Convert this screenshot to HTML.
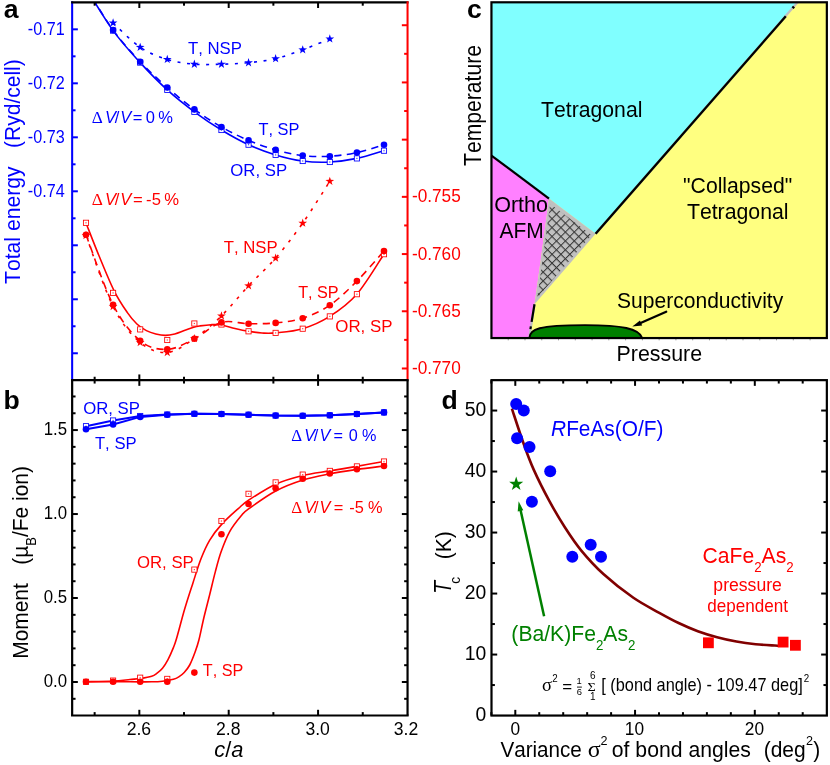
<!DOCTYPE html>
<html><head><meta charset="utf-8"><title>figure</title>
<style>html,body{margin:0;padding:0;background:#fff;}body{width:830px;height:765px;overflow:hidden;font-family:"Liberation Sans",sans-serif;}svg text{white-space:pre;font-kerning:none;}</style></head>
<body>
<svg width="830" height="765" viewBox="0 0 830 765" style="display:block;will-change:transform;transform:translateZ(0)">
<rect width="830" height="765" fill="#fff"/>
<defs><clipPath id="ca"><rect x="72.15" y="2.3" width="335.4" height="377.84999999999997"/></clipPath>
<pattern id="hatch" width="6.29" height="6.29" patternUnits="userSpaceOnUse" patternTransform="translate(552.06,217.95) rotate(45)"><path d="M0,0.5H6.29M0.5,0V6.29" stroke="#383838" stroke-width="1.05" fill="none"/></pattern>
</defs>
<g id="pc">
<rect x="491.45" y="2.3" width="335.40000000000003" height="335.75" fill="#ffff80"/>
<polygon points="491.45,2.3 797.6,2.3 595.6,233.8 549.0,198.6 491.45,155.6" fill="#80ffff"/>
<path d="M491.45,155.6 L549.0,198.6 Q542.0,252 534.5,304.3 L529.3,338.0 L491.45,338.05 Z" fill="#ff80ff"/>
<path d="M549.0,198.6 L595.6,233.8 L534.5,304.3 Q542.0,252 549.0,198.6 Z" fill="#c0c0c0"/>
<clipPath id="gclip"><path d="M549.0,198.6 L595.6,233.8 L534.5,304.3 Q542.0,252 549.0,198.6 Z" transform="translate(559.2,245.3) scale(0.89) translate(-559.2,-245.3)"/></clipPath>
<rect x="528" y="195" width="72" height="112" fill="url(#hatch)" clip-path="url(#gclip)"/>
<line x1="491.45" y1="155.6" x2="549" y2="198.6" stroke="#000" stroke-width="2.2" />
<line x1="595.6" y1="233.8" x2="797.6" y2="2.3" stroke="#c0c0c0" stroke-width="2.2" />
<line x1="595.6" y1="233.8" x2="785.8" y2="16.3" stroke="#000" stroke-width="2.4" />
<line x1="792.6" y1="8.2" x2="794" y2="6.6" stroke="#000" stroke-width="2.6" />
<path d="M534.5,304.3 L529.4,337" fill="none" stroke="#c0c0c0" stroke-width="2.2" />
<path d="M534.5,304.3 L529.6,334" fill="none" stroke="#000" stroke-width="2.2" stroke-dasharray="17.8,4.6,2.8,12" />
<path d="M529.4,338 C529.6,329 538,325.3 585,325.1 C622,325.1 639,328.5 642.2,338 Z" fill="#008000"/>
<path d="M529.4,338 C529.6,329 538,325.3 585,325.1 C622,325.1 639,328.5 642.2,338" fill="none" stroke="#000" stroke-width="1.9"/>
<line x1="666.2" y1="311.7" x2="640" y2="323.3" stroke="#000" stroke-width="2.3" stroke-linecap="round"/>
<polygon points="632.3,326.6 640.0,320.6 642.2,325.4" fill="#000"/>
<line x1="508.22" y1="339.05" x2="508.22" y2="340.35" stroke="#9a9a9a" stroke-width="1.0" />
<line x1="524.99" y1="339.05" x2="524.99" y2="340.35" stroke="#9a9a9a" stroke-width="1.0" />
<line x1="541.76" y1="339.05" x2="541.76" y2="340.35" stroke="#9a9a9a" stroke-width="1.0" />
<line x1="558.53" y1="339.05" x2="558.53" y2="340.35" stroke="#9a9a9a" stroke-width="1.0" />
<line x1="575.3" y1="339.05" x2="575.3" y2="340.35" stroke="#9a9a9a" stroke-width="1.0" />
<line x1="592.07" y1="339.05" x2="592.07" y2="340.35" stroke="#9a9a9a" stroke-width="1.0" />
<line x1="608.84" y1="339.05" x2="608.84" y2="340.35" stroke="#9a9a9a" stroke-width="1.0" />
<line x1="625.61" y1="339.05" x2="625.61" y2="340.35" stroke="#9a9a9a" stroke-width="1.0" />
<line x1="642.38" y1="339.05" x2="642.38" y2="340.35" stroke="#9a9a9a" stroke-width="1.0" />
<line x1="659.15" y1="339.05" x2="659.15" y2="340.35" stroke="#9a9a9a" stroke-width="1.0" />
<line x1="675.92" y1="339.05" x2="675.92" y2="340.35" stroke="#9a9a9a" stroke-width="1.0" />
<line x1="692.69" y1="339.05" x2="692.69" y2="340.35" stroke="#9a9a9a" stroke-width="1.0" />
<line x1="709.46" y1="339.05" x2="709.46" y2="340.35" stroke="#9a9a9a" stroke-width="1.0" />
<line x1="726.23" y1="339.05" x2="726.23" y2="340.35" stroke="#9a9a9a" stroke-width="1.0" />
<line x1="743" y1="339.05" x2="743" y2="340.35" stroke="#9a9a9a" stroke-width="1.0" />
<line x1="759.77" y1="339.05" x2="759.77" y2="340.35" stroke="#9a9a9a" stroke-width="1.0" />
<line x1="776.54" y1="339.05" x2="776.54" y2="340.35" stroke="#9a9a9a" stroke-width="1.0" />
<line x1="793.31" y1="339.05" x2="793.31" y2="340.35" stroke="#9a9a9a" stroke-width="1.0" />
<line x1="810.08" y1="339.05" x2="810.08" y2="340.35" stroke="#9a9a9a" stroke-width="1.0" />
<rect x="491.45" y="2.3" width="335.40000000000003" height="335.75" fill="none" stroke="#000" stroke-width="2.2"/>
<text transform="translate(467,18.1) scale(1,1.0)" font-size="26.6" fill="#000" font-family='"Liberation Sans", sans-serif' font-weight="bold">c</text>
<text transform="translate(480.8,166) rotate(-90) scale(1,1.103)" font-size="21.13" fill="#000" font-family='"Liberation Sans", sans-serif'>Temperature</text>
<text transform="translate(541.1,116.7) scale(1,1.053)" font-size="21.19" fill="#000" font-family='"Liberation Sans", sans-serif'>Tetragonal</text>
<text transform="translate(683.09,193.4) scale(1,1.04)" font-size="21.18" fill="#000" font-family='"Liberation Sans", sans-serif'>&quot;Collapsed&quot;</text>
<text transform="translate(686.89,218.5) scale(1,1.048)" font-size="21.28" fill="#000" font-family='"Liberation Sans", sans-serif'>Tetragonal</text>
<text transform="translate(494.17,212) scale(1,1.016)" font-size="21.54" fill="#000" font-family='"Liberation Sans", sans-serif'>Ortho</text>
<text transform="translate(499.6,238) scale(1,1.078)" font-size="20.95" fill="#000" font-family='"Liberation Sans", sans-serif'>AFM</text>
<text transform="translate(617,307.6) scale(1,1.065)" font-size="21.07" fill="#000" font-family='"Liberation Sans", sans-serif'>Superconductivity</text>
<text transform="translate(616.62,360.9) scale(1,1.044)" font-size="21.36" fill="#000" font-family='"Liberation Sans", sans-serif'>Pressure</text>
</g>
<g id="pa">
<g clip-path="url(#ca)">
<path d="M86,-12C90.52,-4.9 104.06,18.17 113.09,30.6C122.12,43.03 131.15,52.72 140.18,62.6C149.21,72.48 158.24,81.7 167.27,89.9C176.3,98.1 185.33,105.12 194.36,111.8C203.39,118.48 212.42,124.52 221.45,130C230.48,135.48 239.51,140.55 248.54,144.7C257.57,148.85 266.6,152.18 275.63,154.9C284.66,157.62 293.69,159.82 302.72,161C311.75,162.18 320.78,162.43 329.81,162C338.84,161.57 347.87,160.28 356.9,158.4C365.93,156.52 379.48,151.98 383.99,150.7" fill="none" stroke="#0000ff" stroke-width="1.6" />
<path d="M86,-12.5C90.52,-5.4 104.06,17.73 113.09,30.1C122.12,42.47 131.15,52.13 140.18,61.7C149.21,71.27 158.24,79.55 167.27,87.5C176.3,95.45 185.33,102.82 194.36,109.4C203.39,115.98 212.42,121.83 221.45,127C230.48,132.17 239.51,136.58 248.54,140.4C257.57,144.22 266.6,147.37 275.63,149.9C284.66,152.43 293.69,154.55 302.72,155.6C311.75,156.65 320.78,156.7 329.81,156.2C338.84,155.7 347.87,154.5 356.9,152.6C365.93,150.7 379.48,146.1 383.99,144.8" fill="none" stroke="#0000ff" stroke-width="1.6" stroke-dasharray="7.2,5.4" />
<path d="M113.09,22.9C117.61,26.97 131.15,41.22 140.18,47.3C149.21,53.38 158.24,56.58 167.27,59.4C176.3,62.22 185.33,63.4 194.36,64.2C203.39,65 212.42,64.45 221.45,64.2C230.48,63.95 239.51,63.63 248.54,62.7C257.57,61.77 266.6,60.75 275.63,58.6C284.66,56.45 293.69,53.08 302.72,49.8C311.75,46.52 325.3,40.72 329.81,38.9" fill="none" stroke="#0000ff" stroke-width="1.6" stroke-dasharray="3,6.6" />
<path d="M86,223C88.17,228.47 94.32,244.5 99,255.8C103.68,267.1 109.37,281.33 114.1,290.8C118.83,300.27 123.6,307.07 127.4,312.6C131.2,318.13 133.73,321 136.9,324C140.07,327 143.25,328.93 146.4,330.6C149.55,332.27 152.65,333.2 155.8,334C158.95,334.8 162.13,335.4 165.3,335.4C168.47,335.4 171.63,334.8 174.8,334C177.97,333.2 181.15,331.73 184.3,330.6C187.45,329.47 191.08,327.98 193.7,327.2C196.32,326.42 197.12,326.32 200,325.9C202.88,325.48 207.42,324.85 211,324.7C214.58,324.55 217.5,324.37 221.5,325C225.5,325.63 230.5,327.45 235,328.5C239.5,329.55 244,330.55 248.5,331.3C253,332.05 257.48,332.73 262,333C266.52,333.27 268.82,333.62 275.6,332.9C282.38,332.18 293.68,331.45 302.7,328.7C311.72,325.95 320.68,322.15 329.7,316.4C338.72,310.65 347.77,304.57 356.8,294.2C365.83,283.83 379.38,260.87 383.9,254.2" fill="none" stroke="#ff0000" stroke-width="1.6" />
<path d="M86,234.8C90.52,246.45 104.06,287.05 113.09,304.7C122.12,322.35 131.15,333.25 140.18,340.7C149.21,348.15 158.24,349.72 167.27,349.4C176.3,349.08 185.33,343.3 194.36,338.8C203.39,334.3 212.42,324.92 221.45,322.4C230.48,319.88 239.51,323.62 248.54,323.7C257.57,323.78 266.6,323.82 275.63,322.9C284.66,321.98 293.69,321.15 302.72,318.2C311.75,315.25 320.78,311.38 329.81,305.2C338.84,299.02 347.87,290.13 356.9,281.1C365.93,272.07 379.48,256.02 383.99,251" fill="none" stroke="#ff0000" stroke-width="1.6" stroke-dasharray="7.2,5.4" />
<path d="M86,235.5C90.52,247.33 104.06,288.67 113.09,306.5C122.12,324.33 131.15,334.83 140.18,342.5C149.21,350.17 158.24,353.17 167.27,352.5C176.3,351.83 185.33,344.6 194.36,338.5C203.39,332.4 212.42,324.68 221.45,315.9C230.48,307.12 239.51,295.43 248.54,285.8C257.57,276.17 266.6,268.55 275.63,258.1C284.66,247.65 293.69,235.9 302.72,223.1C311.75,210.3 325.3,188.27 329.81,181.3" fill="none" stroke="#ff0000" stroke-width="1.6" stroke-dasharray="3,6.6" />
</g>
<rect x="110.49" y="28" width="5.2" height="5.2" fill="#fff" stroke="#0000ff" stroke-width="0.85"/>
<rect x="112.49" y="30" width="1.2" height="1.2" fill="#0000ff" fill-opacity="0.75"/>
<rect x="137.58" y="60" width="5.2" height="5.2" fill="#fff" stroke="#0000ff" stroke-width="0.85"/>
<rect x="139.58" y="62" width="1.2" height="1.2" fill="#0000ff" fill-opacity="0.75"/>
<rect x="164.67" y="87.3" width="5.2" height="5.2" fill="#fff" stroke="#0000ff" stroke-width="0.85"/>
<rect x="166.67" y="89.3" width="1.2" height="1.2" fill="#0000ff" fill-opacity="0.75"/>
<rect x="191.76" y="109.2" width="5.2" height="5.2" fill="#fff" stroke="#0000ff" stroke-width="0.85"/>
<rect x="193.76" y="111.2" width="1.2" height="1.2" fill="#0000ff" fill-opacity="0.75"/>
<rect x="218.85" y="127.4" width="5.2" height="5.2" fill="#fff" stroke="#0000ff" stroke-width="0.85"/>
<rect x="220.85" y="129.4" width="1.2" height="1.2" fill="#0000ff" fill-opacity="0.75"/>
<rect x="245.94" y="142.1" width="5.2" height="5.2" fill="#fff" stroke="#0000ff" stroke-width="0.85"/>
<rect x="247.94" y="144.1" width="1.2" height="1.2" fill="#0000ff" fill-opacity="0.75"/>
<rect x="273.03" y="152.3" width="5.2" height="5.2" fill="#fff" stroke="#0000ff" stroke-width="0.85"/>
<rect x="275.03" y="154.3" width="1.2" height="1.2" fill="#0000ff" fill-opacity="0.75"/>
<rect x="300.12" y="158.4" width="5.2" height="5.2" fill="#fff" stroke="#0000ff" stroke-width="0.85"/>
<rect x="302.12" y="160.4" width="1.2" height="1.2" fill="#0000ff" fill-opacity="0.75"/>
<rect x="327.21" y="159.4" width="5.2" height="5.2" fill="#fff" stroke="#0000ff" stroke-width="0.85"/>
<rect x="329.21" y="161.4" width="1.2" height="1.2" fill="#0000ff" fill-opacity="0.75"/>
<rect x="354.3" y="155.8" width="5.2" height="5.2" fill="#fff" stroke="#0000ff" stroke-width="0.85"/>
<rect x="356.3" y="157.8" width="1.2" height="1.2" fill="#0000ff" fill-opacity="0.75"/>
<rect x="381.39" y="148.1" width="5.2" height="5.2" fill="#fff" stroke="#0000ff" stroke-width="0.85"/>
<rect x="383.39" y="150.1" width="1.2" height="1.2" fill="#0000ff" fill-opacity="0.75"/>
<circle cx="113.09" cy="30.1" r="3.3" fill="#0000ff"/>
<circle cx="140.18" cy="61.7" r="3.3" fill="#0000ff"/>
<circle cx="167.27" cy="87.5" r="3.3" fill="#0000ff"/>
<circle cx="194.36" cy="109.4" r="3.3" fill="#0000ff"/>
<circle cx="221.45" cy="127" r="3.3" fill="#0000ff"/>
<circle cx="248.54" cy="140.4" r="3.3" fill="#0000ff"/>
<circle cx="275.63" cy="149.9" r="3.3" fill="#0000ff"/>
<circle cx="302.72" cy="155.6" r="3.3" fill="#0000ff"/>
<circle cx="329.81" cy="156.2" r="3.3" fill="#0000ff"/>
<circle cx="356.9" cy="152.6" r="3.3" fill="#0000ff"/>
<circle cx="383.99" cy="144.8" r="3.3" fill="#0000ff"/>
<polygon points="113.09,18.3 114.15,21.44 117.46,21.48 114.8,23.46 115.79,26.62 113.09,24.7 110.39,26.62 111.38,23.46 108.72,21.48 112.03,21.44" fill="#0000ff"/>
<polygon points="140.18,42.7 141.24,45.84 144.55,45.88 141.89,47.86 142.88,51.02 140.18,49.1 137.48,51.02 138.47,47.86 135.81,45.88 139.12,45.84" fill="#0000ff"/>
<polygon points="167.27,54.8 168.33,57.94 171.64,57.98 168.98,59.96 169.97,63.12 167.27,61.2 164.57,63.12 165.56,59.96 162.9,57.98 166.21,57.94" fill="#0000ff"/>
<polygon points="194.36,59.6 195.42,62.74 198.73,62.78 196.07,64.76 197.06,67.92 194.36,66 191.66,67.92 192.65,64.76 189.99,62.78 193.3,62.74" fill="#0000ff"/>
<polygon points="221.45,59.6 222.51,62.74 225.82,62.78 223.16,64.76 224.15,67.92 221.45,66 218.75,67.92 219.74,64.76 217.08,62.78 220.39,62.74" fill="#0000ff"/>
<polygon points="248.54,58.1 249.6,61.24 252.91,61.28 250.25,63.26 251.24,66.42 248.54,64.5 245.84,66.42 246.83,63.26 244.17,61.28 247.48,61.24" fill="#0000ff"/>
<polygon points="275.63,54 276.69,57.14 280,57.18 277.34,59.16 278.33,62.32 275.63,60.4 272.93,62.32 273.92,59.16 271.26,57.18 274.57,57.14" fill="#0000ff"/>
<polygon points="302.72,45.2 303.78,48.34 307.09,48.38 304.43,50.36 305.42,53.52 302.72,51.6 300.02,53.52 301.01,50.36 298.35,48.38 301.66,48.34" fill="#0000ff"/>
<polygon points="329.81,34.3 330.87,37.44 334.18,37.48 331.52,39.46 332.51,42.62 329.81,40.7 327.11,42.62 328.1,39.46 325.44,37.48 328.75,37.44" fill="#0000ff"/>
<rect x="83.4" y="220.2" width="5.2" height="5.2" fill="#fff" stroke="#ff0000" stroke-width="0.85"/>
<rect x="85.4" y="222.2" width="1.2" height="1.2" fill="#ff0000" fill-opacity="0.75"/>
<rect x="110.49" y="290.3" width="5.2" height="5.2" fill="#fff" stroke="#ff0000" stroke-width="0.85"/>
<rect x="112.49" y="292.3" width="1.2" height="1.2" fill="#ff0000" fill-opacity="0.75"/>
<rect x="137.58" y="326.8" width="5.2" height="5.2" fill="#fff" stroke="#ff0000" stroke-width="0.85"/>
<rect x="139.58" y="328.8" width="1.2" height="1.2" fill="#ff0000" fill-opacity="0.75"/>
<rect x="164.67" y="337.4" width="5.2" height="5.2" fill="#fff" stroke="#ff0000" stroke-width="0.85"/>
<rect x="166.67" y="339.4" width="1.2" height="1.2" fill="#ff0000" fill-opacity="0.75"/>
<rect x="191.76" y="320.9" width="5.2" height="5.2" fill="#fff" stroke="#ff0000" stroke-width="0.85"/>
<rect x="193.76" y="322.9" width="1.2" height="1.2" fill="#ff0000" fill-opacity="0.75"/>
<rect x="218.85" y="321.9" width="5.2" height="5.2" fill="#fff" stroke="#ff0000" stroke-width="0.85"/>
<rect x="220.85" y="323.9" width="1.2" height="1.2" fill="#ff0000" fill-opacity="0.75"/>
<rect x="245.94" y="328.7" width="5.2" height="5.2" fill="#fff" stroke="#ff0000" stroke-width="0.85"/>
<rect x="247.94" y="330.7" width="1.2" height="1.2" fill="#ff0000" fill-opacity="0.75"/>
<rect x="273.03" y="330.3" width="5.2" height="5.2" fill="#fff" stroke="#ff0000" stroke-width="0.85"/>
<rect x="275.03" y="332.3" width="1.2" height="1.2" fill="#ff0000" fill-opacity="0.75"/>
<rect x="300.12" y="326.1" width="5.2" height="5.2" fill="#fff" stroke="#ff0000" stroke-width="0.85"/>
<rect x="302.12" y="328.1" width="1.2" height="1.2" fill="#ff0000" fill-opacity="0.75"/>
<rect x="327.21" y="313.8" width="5.2" height="5.2" fill="#fff" stroke="#ff0000" stroke-width="0.85"/>
<rect x="329.21" y="315.8" width="1.2" height="1.2" fill="#ff0000" fill-opacity="0.75"/>
<rect x="354.3" y="291.6" width="5.2" height="5.2" fill="#fff" stroke="#ff0000" stroke-width="0.85"/>
<rect x="356.3" y="293.6" width="1.2" height="1.2" fill="#ff0000" fill-opacity="0.75"/>
<rect x="381.39" y="251.6" width="5.2" height="5.2" fill="#fff" stroke="#ff0000" stroke-width="0.85"/>
<rect x="383.39" y="253.6" width="1.2" height="1.2" fill="#ff0000" fill-opacity="0.75"/>
<circle cx="86" cy="234.8" r="3.3" fill="#ff0000"/>
<circle cx="113.09" cy="304.7" r="3.3" fill="#ff0000"/>
<circle cx="140.18" cy="340.7" r="3.3" fill="#ff0000"/>
<circle cx="167.27" cy="349.4" r="3.3" fill="#ff0000"/>
<circle cx="194.36" cy="338.8" r="3.3" fill="#ff0000"/>
<circle cx="221.45" cy="322.4" r="3.3" fill="#ff0000"/>
<circle cx="248.54" cy="323.7" r="3.3" fill="#ff0000"/>
<circle cx="275.63" cy="322.9" r="3.3" fill="#ff0000"/>
<circle cx="302.72" cy="318.2" r="3.3" fill="#ff0000"/>
<circle cx="329.81" cy="305.2" r="3.3" fill="#ff0000"/>
<circle cx="356.9" cy="281.1" r="3.3" fill="#ff0000"/>
<circle cx="383.99" cy="251" r="3.3" fill="#ff0000"/>
<polygon points="86,230.9 87.06,234.04 90.37,234.08 87.71,236.06 88.7,239.22 86,237.3 83.3,239.22 84.29,236.06 81.63,234.08 84.94,234.04" fill="#ff0000"/>
<polygon points="113.09,301.9 114.15,305.04 117.46,305.08 114.8,307.06 115.79,310.22 113.09,308.3 110.39,310.22 111.38,307.06 108.72,305.08 112.03,305.04" fill="#ff0000"/>
<polygon points="140.18,337.9 141.24,341.04 144.55,341.08 141.89,343.06 142.88,346.22 140.18,344.3 137.48,346.22 138.47,343.06 135.81,341.08 139.12,341.04" fill="#ff0000"/>
<polygon points="167.27,347.9 168.33,351.04 171.64,351.08 168.98,353.06 169.97,356.22 167.27,354.3 164.57,356.22 165.56,353.06 162.9,351.08 166.21,351.04" fill="#ff0000"/>
<polygon points="194.36,333.9 195.42,337.04 198.73,337.08 196.07,339.06 197.06,342.22 194.36,340.3 191.66,342.22 192.65,339.06 189.99,337.08 193.3,337.04" fill="#ff0000"/>
<polygon points="221.45,311.3 222.51,314.44 225.82,314.48 223.16,316.46 224.15,319.62 221.45,317.7 218.75,319.62 219.74,316.46 217.08,314.48 220.39,314.44" fill="#ff0000"/>
<polygon points="248.54,281.2 249.6,284.34 252.91,284.38 250.25,286.36 251.24,289.52 248.54,287.6 245.84,289.52 246.83,286.36 244.17,284.38 247.48,284.34" fill="#ff0000"/>
<polygon points="275.63,253.5 276.69,256.64 280,256.68 277.34,258.66 278.33,261.82 275.63,259.9 272.93,261.82 273.92,258.66 271.26,256.68 274.57,256.64" fill="#ff0000"/>
<polygon points="302.72,218.5 303.78,221.64 307.09,221.68 304.43,223.66 305.42,226.82 302.72,224.9 300.02,226.82 301.01,223.66 298.35,221.68 301.66,221.64" fill="#ff0000"/>
<polygon points="329.81,176.7 330.87,179.84 334.18,179.88 331.52,181.86 332.51,185.02 329.81,183.1 327.11,185.02 328.1,181.86 325.44,179.88 328.75,179.84" fill="#ff0000"/>
<line x1="72.15" y1="1.3" x2="72.15" y2="380.15" stroke="#0000ff" stroke-width="2.05" />
<line x1="71.15" y1="2.3" x2="408.55" y2="2.3" stroke="#000" stroke-width="2.2" />
<line x1="407.55" y1="1.3" x2="407.55" y2="380.15" stroke="#ff0000" stroke-width="2.05" />
<line x1="72.15" y1="29.33" x2="77.85" y2="29.33" stroke="#0000ff" stroke-width="2" />
<text transform="translate(27.79,35.23) scale(1,1.128)" font-size="16.2" fill="#0000ff" font-family='"Liberation Sans", sans-serif'>-0.71</text>
<line x1="72.15" y1="56.33" x2="75.55" y2="56.33" stroke="#0000ff" stroke-width="2" />
<line x1="72.15" y1="83.32" x2="77.85" y2="83.32" stroke="#0000ff" stroke-width="2" />
<text transform="translate(27.79,89.22) scale(1,1.128)" font-size="16.2" fill="#0000ff" font-family='"Liberation Sans", sans-serif'>-0.72</text>
<line x1="72.15" y1="110.31" x2="75.55" y2="110.31" stroke="#0000ff" stroke-width="2" />
<line x1="72.15" y1="137.31" x2="77.85" y2="137.31" stroke="#0000ff" stroke-width="2" />
<text transform="translate(27.79,143.21) scale(1,1.128)" font-size="16.2" fill="#0000ff" font-family='"Liberation Sans", sans-serif'>-0.73</text>
<line x1="72.15" y1="164.31" x2="75.55" y2="164.31" stroke="#0000ff" stroke-width="2" />
<line x1="72.15" y1="191.3" x2="77.85" y2="191.3" stroke="#0000ff" stroke-width="2" />
<text transform="translate(27.79,197.2) scale(1,1.128)" font-size="16.2" fill="#0000ff" font-family='"Liberation Sans", sans-serif'>-0.74</text>
<line x1="72.15" y1="218.3" x2="75.55" y2="218.3" stroke="#0000ff" stroke-width="2" />
<line x1="72.15" y1="245.29" x2="77.85" y2="245.29" stroke="#0000ff" stroke-width="2" />
<line x1="72.15" y1="272.29" x2="75.55" y2="272.29" stroke="#0000ff" stroke-width="2" />
<line x1="72.15" y1="299.28" x2="77.85" y2="299.28" stroke="#0000ff" stroke-width="2" />
<line x1="72.15" y1="326.27" x2="75.55" y2="326.27" stroke="#0000ff" stroke-width="2" />
<line x1="72.15" y1="353.27" x2="77.85" y2="353.27" stroke="#0000ff" stroke-width="2" />
<line x1="407.55" y1="25.22" x2="401.85" y2="25.22" stroke="#ff0000" stroke-width="2" />
<line x1="407.55" y1="82.43" x2="401.85" y2="82.43" stroke="#ff0000" stroke-width="2" />
<line x1="407.55" y1="53.82" x2="404.15" y2="53.82" stroke="#ff0000" stroke-width="2" />
<line x1="407.55" y1="139.64" x2="401.85" y2="139.64" stroke="#ff0000" stroke-width="2" />
<line x1="407.55" y1="111.03" x2="404.15" y2="111.03" stroke="#ff0000" stroke-width="2" />
<line x1="407.55" y1="196.85" x2="401.85" y2="196.85" stroke="#ff0000" stroke-width="2" />
<text transform="translate(411.94,202.35) scale(1,1.041)" font-size="17.22" fill="#ff0000" font-family='"Liberation Sans", sans-serif'>-0.755</text>
<line x1="407.55" y1="168.25" x2="404.15" y2="168.25" stroke="#ff0000" stroke-width="2" />
<line x1="407.55" y1="254.06" x2="401.85" y2="254.06" stroke="#ff0000" stroke-width="2" />
<text transform="translate(411.94,259.56) scale(1,1.041)" font-size="17.22" fill="#ff0000" font-family='"Liberation Sans", sans-serif'>-0.760</text>
<line x1="407.55" y1="225.46" x2="404.15" y2="225.46" stroke="#ff0000" stroke-width="2" />
<line x1="407.55" y1="311.27" x2="401.85" y2="311.27" stroke="#ff0000" stroke-width="2" />
<text transform="translate(411.94,316.77) scale(1,1.041)" font-size="17.22" fill="#ff0000" font-family='"Liberation Sans", sans-serif'>-0.765</text>
<line x1="407.55" y1="282.66" x2="404.15" y2="282.66" stroke="#ff0000" stroke-width="2" />
<line x1="407.55" y1="368.48" x2="401.85" y2="368.48" stroke="#ff0000" stroke-width="2" />
<text transform="translate(411.94,373.98) scale(1,1.041)" font-size="17.22" fill="#ff0000" font-family='"Liberation Sans", sans-serif'>-0.770</text>
<line x1="407.55" y1="339.88" x2="404.15" y2="339.88" stroke="#ff0000" stroke-width="2" />
<line x1="94.64" y1="2.3" x2="94.64" y2="5.7" stroke="#000" stroke-width="2" />
<line x1="139.33" y1="2.3" x2="139.33" y2="8" stroke="#000" stroke-width="2" />
<line x1="184.02" y1="2.3" x2="184.02" y2="5.7" stroke="#000" stroke-width="2" />
<line x1="228.7" y1="2.3" x2="228.7" y2="8" stroke="#000" stroke-width="2" />
<line x1="273.38" y1="2.3" x2="273.38" y2="5.7" stroke="#000" stroke-width="2" />
<line x1="318.07" y1="2.3" x2="318.07" y2="8" stroke="#000" stroke-width="2" />
<line x1="362.75" y1="2.3" x2="362.75" y2="5.7" stroke="#000" stroke-width="2" />
<text transform="translate(3.75,18.1) scale(1,1.0)" font-size="26.6" fill="#000" font-family='"Liberation Sans", sans-serif' font-weight="bold">a</text>
<text transform="translate(19.8,283.9) rotate(-90) scale(1,1.082)" font-size="21.12" fill="#0000ff" font-family='"Liberation Sans", sans-serif'>Total energy</text>
<text transform="translate(19.8,147.95) rotate(-90) scale(1,1.088)" font-size="21.01" fill="#0000ff" font-family='"Liberation Sans", sans-serif'>(Ryd/cell)</text>
<text transform="translate(187.95,54.1) scale(1,1.023)" font-size="16.76" fill="#0000ff" font-family='"Liberation Sans", sans-serif'>T, NSP</text>
<text transform="translate(258.46,135.2) scale(1,1.046)" font-size="16.39" fill="#0000ff" font-family='"Liberation Sans", sans-serif'>T, SP</text>
<text transform="translate(230.26,175.9) scale(1,1.031)" font-size="16.76" fill="#0000ff" font-family='"Liberation Sans", sans-serif'>OR, SP</text>
<text transform="translate(223.8,252.9) scale(1,1.042)" font-size="16.72" fill="#ff0000" font-family='"Liberation Sans", sans-serif'>T, NSP</text>
<text transform="translate(298.16,297.5) scale(1,1.057)" font-size="16.22" fill="#ff0000" font-family='"Liberation Sans", sans-serif'>T, SP</text>
<text transform="translate(335.26,331.9) scale(1,1.024)" font-size="16.88" fill="#ff0000" font-family='"Liberation Sans", sans-serif'>OR, SP</text>
<text transform="translate(91.83,122.7) scale(1,1.002)" font-size="16.53" fill="#0000ff" font-family='"Liberation Sans", sans-serif'><tspan font-family='"Liberation Serif", serif' font-size="104%">Δ</tspan><tspan dx="0.13em" font-style="italic">V</tspan><tspan dx="-0.08em">/</tspan><tspan dx="0.05em" font-style="italic">V</tspan><tspan dx="0.1em">=</tspan><tspan dx="0.2em">0</tspan><tspan dx="0.2em">%</tspan></text>
<text transform="translate(91.82,204.6) scale(1,0.995)" font-size="16.64" fill="#ff0000" font-family='"Liberation Sans", sans-serif'><tspan font-family='"Liberation Serif", serif' font-size="104%">Δ</tspan><tspan dx="0.13em" font-style="italic">V</tspan><tspan dx="-0.08em">/</tspan><tspan dx="0.05em" font-style="italic">V</tspan><tspan dx="0.1em">=</tspan><tspan dx="0.2em">-5</tspan><tspan dx="0.2em">%</tspan></text>
</g>
<g id="pb">
<path d="M86,426.2L113.09,420.5L140.18,416L167.27,414.5L194.36,413.8L221.45,414L248.54,414.7L275.63,415.6L302.72,415.8L329.81,415.3L356.9,414L383.99,412.4" fill="none" stroke="#0000ff" stroke-width="2.0" />
<path d="M86,429.2L113.09,424.4L140.18,416.9L167.27,414.7L194.36,413.8L221.45,414L248.54,414.7L275.63,415.6L302.72,415.8L329.81,415.3L356.9,414L383.99,412.4" fill="none" stroke="#0000ff" stroke-width="2.0" />
<path d="M86,681.8C90.5,681.67 105.67,681.38 113,681C120.33,680.62 125.37,679.92 130,679.5C134.63,679.08 137.18,679.03 140.8,678.5C144.42,677.97 148.98,677.2 151.7,676.3C154.42,675.4 155.3,674.45 157.1,673.1C158.9,671.75 160.68,670.47 162.5,668.2C164.32,665.93 166.18,662.93 168,659.5C169.82,656.07 171.95,651.18 173.4,647.6C174.85,644.02 174.83,644.38 176.7,638C178.57,631.62 181.92,618.4 184.6,609.3C187.28,600.2 190.08,591.78 192.8,583.4C195.52,575.02 198.1,566.18 200.9,559C203.7,551.82 206.15,546.07 209.6,540.3C213.05,534.53 216.82,529.68 221.6,524.4C226.38,519.12 233.75,512.67 238.3,508.6C242.85,504.53 242.67,504.07 248.9,500C255.13,495.93 266.7,488.28 275.7,484.2C284.7,480.12 293.87,477.72 302.9,475.5C311.93,473.28 320.95,472.42 329.9,470.9C338.85,469.38 347.62,467.97 356.6,466.4C365.58,464.83 379.27,462.32 383.8,461.5" fill="none" stroke="#ff0000" stroke-width="1.6" />
<path d="M86,681.8C93.33,681.8 119.05,681.8 130,681.8C140.95,681.8 146.28,681.9 151.7,681.8C157.12,681.7 158.88,681.62 162.5,681.2C166.12,680.78 170.68,680.02 173.4,679.3C176.12,678.58 177,678.03 178.8,676.9C180.6,675.77 182.38,674.48 184.2,672.5C186.02,670.52 187.88,668.42 189.7,665C191.52,661.58 193.57,656.17 195.1,652C196.63,647.83 197.45,645.67 198.9,640C200.35,634.33 202.02,625.5 203.8,618C205.58,610.5 207.68,602.68 209.6,595C211.52,587.32 213.38,579.1 215.3,571.9C217.22,564.7 218.7,558.52 221.1,551.8C223.5,545.08 226.35,537.6 229.7,531.6C233.05,525.6 238,519.62 241.2,515.8C244.4,511.98 243.15,512.83 248.9,508.7C254.65,504.57 266.7,495.78 275.7,491C284.7,486.22 293.87,482.87 302.9,480C311.93,477.13 320.95,475.55 329.9,473.8C338.85,472.05 347.62,470.8 356.6,469.5C365.58,468.2 379.27,466.58 383.8,466" fill="none" stroke="#ff0000" stroke-width="1.6" />
<rect x="83.4" y="423.6" width="5.2" height="5.2" fill="#fff" stroke="#0000ff" stroke-width="0.85"/>
<rect x="85.4" y="425.6" width="1.2" height="1.2" fill="#0000ff" fill-opacity="0.75"/>
<rect x="110.49" y="417.9" width="5.2" height="5.2" fill="#fff" stroke="#0000ff" stroke-width="0.85"/>
<rect x="112.49" y="419.9" width="1.2" height="1.2" fill="#0000ff" fill-opacity="0.75"/>
<rect x="137.58" y="413.4" width="5.2" height="5.2" fill="#fff" stroke="#0000ff" stroke-width="0.85"/>
<rect x="139.58" y="415.4" width="1.2" height="1.2" fill="#0000ff" fill-opacity="0.75"/>
<rect x="164.67" y="411.9" width="5.2" height="5.2" fill="#fff" stroke="#0000ff" stroke-width="0.85"/>
<rect x="166.67" y="413.9" width="1.2" height="1.2" fill="#0000ff" fill-opacity="0.75"/>
<rect x="191.76" y="411.2" width="5.2" height="5.2" fill="#fff" stroke="#0000ff" stroke-width="0.85"/>
<rect x="193.76" y="413.2" width="1.2" height="1.2" fill="#0000ff" fill-opacity="0.75"/>
<rect x="218.85" y="411.4" width="5.2" height="5.2" fill="#fff" stroke="#0000ff" stroke-width="0.85"/>
<rect x="220.85" y="413.4" width="1.2" height="1.2" fill="#0000ff" fill-opacity="0.75"/>
<rect x="245.94" y="412.1" width="5.2" height="5.2" fill="#fff" stroke="#0000ff" stroke-width="0.85"/>
<rect x="247.94" y="414.1" width="1.2" height="1.2" fill="#0000ff" fill-opacity="0.75"/>
<rect x="273.03" y="413" width="5.2" height="5.2" fill="#fff" stroke="#0000ff" stroke-width="0.85"/>
<rect x="275.03" y="415" width="1.2" height="1.2" fill="#0000ff" fill-opacity="0.75"/>
<rect x="300.12" y="413.2" width="5.2" height="5.2" fill="#fff" stroke="#0000ff" stroke-width="0.85"/>
<rect x="302.12" y="415.2" width="1.2" height="1.2" fill="#0000ff" fill-opacity="0.75"/>
<rect x="327.21" y="412.7" width="5.2" height="5.2" fill="#fff" stroke="#0000ff" stroke-width="0.85"/>
<rect x="329.21" y="414.7" width="1.2" height="1.2" fill="#0000ff" fill-opacity="0.75"/>
<rect x="354.3" y="411.4" width="5.2" height="5.2" fill="#fff" stroke="#0000ff" stroke-width="0.85"/>
<rect x="356.3" y="413.4" width="1.2" height="1.2" fill="#0000ff" fill-opacity="0.75"/>
<rect x="381.39" y="409.8" width="5.2" height="5.2" fill="#fff" stroke="#0000ff" stroke-width="0.85"/>
<rect x="383.39" y="411.8" width="1.2" height="1.2" fill="#0000ff" fill-opacity="0.75"/>
<circle cx="86" cy="429.2" r="3.3" fill="#0000ff"/>
<circle cx="113.09" cy="424.4" r="3.3" fill="#0000ff"/>
<circle cx="140.18" cy="416.9" r="3.3" fill="#0000ff"/>
<circle cx="167.27" cy="414.7" r="3.3" fill="#0000ff"/>
<circle cx="194.36" cy="413.8" r="3.3" fill="#0000ff"/>
<circle cx="221.45" cy="414" r="3.3" fill="#0000ff"/>
<circle cx="248.54" cy="414.7" r="3.3" fill="#0000ff"/>
<circle cx="275.63" cy="415.6" r="3.3" fill="#0000ff"/>
<circle cx="302.72" cy="415.8" r="3.3" fill="#0000ff"/>
<circle cx="329.81" cy="415.3" r="3.3" fill="#0000ff"/>
<circle cx="356.9" cy="414" r="3.3" fill="#0000ff"/>
<circle cx="383.99" cy="412.4" r="3.3" fill="#0000ff"/>
<rect x="83.4" y="679.2" width="5.2" height="5.2" fill="#fff" stroke="#ff0000" stroke-width="0.85"/>
<rect x="85.4" y="681.2" width="1.2" height="1.2" fill="#ff0000" fill-opacity="0.75"/>
<rect x="110.49" y="678" width="5.2" height="5.2" fill="#fff" stroke="#ff0000" stroke-width="0.85"/>
<rect x="112.49" y="680" width="1.2" height="1.2" fill="#ff0000" fill-opacity="0.75"/>
<rect x="137.58" y="675.1" width="5.2" height="5.2" fill="#fff" stroke="#ff0000" stroke-width="0.85"/>
<rect x="139.58" y="677.1" width="1.2" height="1.2" fill="#ff0000" fill-opacity="0.75"/>
<rect x="164.67" y="676.3" width="5.2" height="5.2" fill="#fff" stroke="#ff0000" stroke-width="0.85"/>
<rect x="166.67" y="678.3" width="1.2" height="1.2" fill="#ff0000" fill-opacity="0.75"/>
<rect x="191.76" y="567" width="5.2" height="5.2" fill="#fff" stroke="#ff0000" stroke-width="0.85"/>
<rect x="193.76" y="569" width="1.2" height="1.2" fill="#ff0000" fill-opacity="0.75"/>
<rect x="218.85" y="518.4" width="5.2" height="5.2" fill="#fff" stroke="#ff0000" stroke-width="0.85"/>
<rect x="220.85" y="520.4" width="1.2" height="1.2" fill="#ff0000" fill-opacity="0.75"/>
<rect x="245.94" y="491.2" width="5.2" height="5.2" fill="#fff" stroke="#ff0000" stroke-width="0.85"/>
<rect x="247.94" y="493.2" width="1.2" height="1.2" fill="#ff0000" fill-opacity="0.75"/>
<rect x="273.03" y="479.8" width="5.2" height="5.2" fill="#fff" stroke="#ff0000" stroke-width="0.85"/>
<rect x="275.03" y="481.8" width="1.2" height="1.2" fill="#ff0000" fill-opacity="0.75"/>
<rect x="300.12" y="472" width="5.2" height="5.2" fill="#fff" stroke="#ff0000" stroke-width="0.85"/>
<rect x="302.12" y="474" width="1.2" height="1.2" fill="#ff0000" fill-opacity="0.75"/>
<rect x="327.21" y="468.3" width="5.2" height="5.2" fill="#fff" stroke="#ff0000" stroke-width="0.85"/>
<rect x="329.21" y="470.3" width="1.2" height="1.2" fill="#ff0000" fill-opacity="0.75"/>
<rect x="354.3" y="463.8" width="5.2" height="5.2" fill="#fff" stroke="#ff0000" stroke-width="0.85"/>
<rect x="356.3" y="465.8" width="1.2" height="1.2" fill="#ff0000" fill-opacity="0.75"/>
<rect x="381.39" y="458.9" width="5.2" height="5.2" fill="#fff" stroke="#ff0000" stroke-width="0.85"/>
<rect x="383.39" y="460.9" width="1.2" height="1.2" fill="#ff0000" fill-opacity="0.75"/>
<circle cx="86" cy="681.8" r="3.3" fill="#ff0000"/>
<circle cx="113.09" cy="681.8" r="3.3" fill="#ff0000"/>
<circle cx="140.18" cy="681.8" r="3.3" fill="#ff0000"/>
<circle cx="167.27" cy="681.8" r="3.3" fill="#ff0000"/>
<circle cx="194.36" cy="672.6" r="3.3" fill="#ff0000"/>
<circle cx="221.45" cy="534.2" r="3.3" fill="#ff0000"/>
<circle cx="248.54" cy="504" r="3.3" fill="#ff0000"/>
<circle cx="275.63" cy="488.2" r="3.3" fill="#ff0000"/>
<circle cx="302.72" cy="478.7" r="3.3" fill="#ff0000"/>
<circle cx="329.81" cy="473.5" r="3.3" fill="#ff0000"/>
<circle cx="356.9" cy="469.3" r="3.3" fill="#ff0000"/>
<circle cx="383.99" cy="466" r="3.3" fill="#ff0000"/>
<line x1="72.15" y1="380.15" x2="72.15" y2="715.5" stroke="#000" stroke-width="2.2" />
<line x1="407.55" y1="380.15" x2="407.55" y2="715.5" stroke="#000" stroke-width="2.2" />
<line x1="71.05" y1="380.15" x2="408.65" y2="380.15" stroke="#000" stroke-width="2.2" />
<line x1="71.05" y1="715.5" x2="408.65" y2="715.5" stroke="#000" stroke-width="2.2" />
<line x1="94.64" y1="376.75" x2="94.64" y2="383.55" stroke="#000" stroke-width="2" />
<line x1="94.64" y1="715.5" x2="94.64" y2="712.1" stroke="#000" stroke-width="2" />
<line x1="139.33" y1="374.45" x2="139.33" y2="385.85" stroke="#000" stroke-width="2" />
<line x1="139.33" y1="715.5" x2="139.33" y2="709.8" stroke="#000" stroke-width="2" />
<text transform="translate(126.72,734.6) scale(1,1.0)" font-size="17.57" fill="#000" font-family='"Liberation Sans", sans-serif'>2.6</text>
<line x1="184.02" y1="376.75" x2="184.02" y2="383.55" stroke="#000" stroke-width="2" />
<line x1="184.02" y1="715.5" x2="184.02" y2="712.1" stroke="#000" stroke-width="2" />
<line x1="228.7" y1="374.45" x2="228.7" y2="385.85" stroke="#000" stroke-width="2" />
<line x1="228.7" y1="715.5" x2="228.7" y2="709.8" stroke="#000" stroke-width="2" />
<text transform="translate(216.09,734.6) scale(1,1.0)" font-size="17.57" fill="#000" font-family='"Liberation Sans", sans-serif'>2.8</text>
<line x1="273.38" y1="376.75" x2="273.38" y2="383.55" stroke="#000" stroke-width="2" />
<line x1="273.38" y1="715.5" x2="273.38" y2="712.1" stroke="#000" stroke-width="2" />
<line x1="318.07" y1="374.45" x2="318.07" y2="385.85" stroke="#000" stroke-width="2" />
<line x1="318.07" y1="715.5" x2="318.07" y2="709.8" stroke="#000" stroke-width="2" />
<text transform="translate(305.46,734.6) scale(1,1.0)" font-size="17.57" fill="#000" font-family='"Liberation Sans", sans-serif'>3.0</text>
<line x1="362.75" y1="376.75" x2="362.75" y2="383.55" stroke="#000" stroke-width="2" />
<line x1="362.75" y1="715.5" x2="362.75" y2="712.1" stroke="#000" stroke-width="2" />
<text transform="translate(393.83,734.6) scale(1,1.0)" font-size="17.57" fill="#000" font-family='"Liberation Sans", sans-serif'>3.2</text>
<text transform="translate(43.66,435.26) scale(1,1.093)" font-size="16.8" fill="#000" font-family='"Liberation Sans", sans-serif'>1.5</text>
<line x1="72.15" y1="698.8" x2="75.55" y2="698.8" stroke="#000" stroke-width="2" />
<line x1="407.55" y1="698.8" x2="404.15" y2="698.8" stroke="#000" stroke-width="2" />
<line x1="72.15" y1="682" x2="77.85" y2="682" stroke="#000" stroke-width="2" />
<line x1="407.55" y1="682" x2="401.85" y2="682" stroke="#000" stroke-width="2" />
<text transform="translate(43.66,687.2) scale(1,1.093)" font-size="16.8" fill="#000" font-family='"Liberation Sans", sans-serif'>0.0</text>
<line x1="72.15" y1="665.2" x2="75.55" y2="665.2" stroke="#000" stroke-width="2" />
<line x1="407.55" y1="665.2" x2="404.15" y2="665.2" stroke="#000" stroke-width="2" />
<line x1="72.15" y1="648.41" x2="75.55" y2="648.41" stroke="#000" stroke-width="2" />
<line x1="407.55" y1="648.41" x2="404.15" y2="648.41" stroke="#000" stroke-width="2" />
<line x1="72.15" y1="631.61" x2="75.55" y2="631.61" stroke="#000" stroke-width="2" />
<line x1="407.55" y1="631.61" x2="404.15" y2="631.61" stroke="#000" stroke-width="2" />
<line x1="72.15" y1="614.82" x2="75.55" y2="614.82" stroke="#000" stroke-width="2" />
<line x1="407.55" y1="614.82" x2="404.15" y2="614.82" stroke="#000" stroke-width="2" />
<line x1="72.15" y1="598.02" x2="77.85" y2="598.02" stroke="#000" stroke-width="2" />
<line x1="407.55" y1="598.02" x2="401.85" y2="598.02" stroke="#000" stroke-width="2" />
<text transform="translate(43.66,603.22) scale(1,1.093)" font-size="16.8" fill="#000" font-family='"Liberation Sans", sans-serif'>0.5</text>
<line x1="72.15" y1="581.22" x2="75.55" y2="581.22" stroke="#000" stroke-width="2" />
<line x1="407.55" y1="581.22" x2="404.15" y2="581.22" stroke="#000" stroke-width="2" />
<line x1="72.15" y1="564.43" x2="75.55" y2="564.43" stroke="#000" stroke-width="2" />
<line x1="407.55" y1="564.43" x2="404.15" y2="564.43" stroke="#000" stroke-width="2" />
<line x1="72.15" y1="547.63" x2="75.55" y2="547.63" stroke="#000" stroke-width="2" />
<line x1="407.55" y1="547.63" x2="404.15" y2="547.63" stroke="#000" stroke-width="2" />
<line x1="72.15" y1="530.84" x2="75.55" y2="530.84" stroke="#000" stroke-width="2" />
<line x1="407.55" y1="530.84" x2="404.15" y2="530.84" stroke="#000" stroke-width="2" />
<line x1="72.15" y1="514.04" x2="77.85" y2="514.04" stroke="#000" stroke-width="2" />
<line x1="407.55" y1="514.04" x2="401.85" y2="514.04" stroke="#000" stroke-width="2" />
<text transform="translate(43.66,519.24) scale(1,1.093)" font-size="16.8" fill="#000" font-family='"Liberation Sans", sans-serif'>1.0</text>
<line x1="72.15" y1="497.24" x2="75.55" y2="497.24" stroke="#000" stroke-width="2" />
<line x1="407.55" y1="497.24" x2="404.15" y2="497.24" stroke="#000" stroke-width="2" />
<line x1="72.15" y1="480.45" x2="75.55" y2="480.45" stroke="#000" stroke-width="2" />
<line x1="407.55" y1="480.45" x2="404.15" y2="480.45" stroke="#000" stroke-width="2" />
<line x1="72.15" y1="463.65" x2="75.55" y2="463.65" stroke="#000" stroke-width="2" />
<line x1="407.55" y1="463.65" x2="404.15" y2="463.65" stroke="#000" stroke-width="2" />
<line x1="72.15" y1="446.86" x2="75.55" y2="446.86" stroke="#000" stroke-width="2" />
<line x1="407.55" y1="446.86" x2="404.15" y2="446.86" stroke="#000" stroke-width="2" />
<line x1="72.15" y1="430.06" x2="77.85" y2="430.06" stroke="#000" stroke-width="2" />
<line x1="407.55" y1="430.06" x2="401.85" y2="430.06" stroke="#000" stroke-width="2" />
<line x1="72.15" y1="413.26" x2="75.55" y2="413.26" stroke="#000" stroke-width="2" />
<line x1="407.55" y1="413.26" x2="404.15" y2="413.26" stroke="#000" stroke-width="2" />
<line x1="72.15" y1="396.47" x2="75.55" y2="396.47" stroke="#000" stroke-width="2" />
<line x1="407.55" y1="396.47" x2="404.15" y2="396.47" stroke="#000" stroke-width="2" />
<text transform="translate(3.55,408.5) scale(1,1.0)" font-size="26.6" fill="#000" font-family='"Liberation Sans", sans-serif' font-weight="bold">b</text>
<text transform="translate(28.05,658.74) rotate(-90) scale(1,1.096)" font-size="20.89" fill="#000" font-family='"Liberation Sans", sans-serif'>Moment</text>
<text transform="translate(28,564.85) rotate(-90) scale(1,1.09)" font-size="20.98" fill="#000" font-family='"Liberation Sans", sans-serif'>(µ<tspan font-size="62%" dy="0.58em">B</tspan><tspan dy="-0.36em">/Fe ion)</tspan></text>
<text transform="translate(83.16,413.6) scale(1,1.031)" font-size="16.76" fill="#0000ff" font-family='"Liberation Sans", sans-serif'>OR, SP</text>
<text transform="translate(94.95,448.6) scale(1,1.028)" font-size="16.67" fill="#0000ff" font-family='"Liberation Sans", sans-serif'>T, SP</text>
<text transform="translate(136.96,567.6) scale(1,1.031)" font-size="16.76" fill="#ff0000" font-family='"Liberation Sans", sans-serif'>OR, SP</text>
<text transform="translate(202.76,676.3) scale(1,1.057)" font-size="16.22" fill="#ff0000" font-family='"Liberation Sans", sans-serif'>T, SP</text>
<text transform="translate(291.24,441.2) scale(1,1.019)" font-size="16.24" fill="#0000ff" font-family='"Liberation Sans", sans-serif'><tspan font-family='"Liberation Serif", serif' font-size="104%">Δ</tspan><tspan dx="0.13em" font-style="italic">V</tspan><tspan dx="-0.08em">/</tspan><tspan dx="0.07em" font-style="italic">V</tspan><tspan dx="0.2em">=</tspan><tspan dx="0.36em">0</tspan><tspan dx="0.26em">%</tspan></text>
<text transform="translate(291.23,512.8) scale(1,1.012)" font-size="16.36" fill="#ff0000" font-family='"Liberation Sans", sans-serif'><tspan font-family='"Liberation Serif", serif' font-size="104%">Δ</tspan><tspan dx="0.13em" font-style="italic">V</tspan><tspan dx="-0.08em">/</tspan><tspan dx="0.07em" font-style="italic">V</tspan><tspan dx="0.2em">=</tspan><tspan dx="0.36em">-5</tspan><tspan dx="0.26em">%</tspan></text>
<text transform="translate(214.22,757.3) scale(1,1.007)" font-size="21.87" fill="#000" font-family='"Liberation Sans", sans-serif'><tspan font-style="italic">c</tspan>/<tspan font-style="italic">a</tspan></text>
</g>
<g id="pd">
<path d="M511.9,408.7C513.8,414.38 519.67,432.65 523.3,442.8C526.93,452.95 529.37,459.92 533.7,469.6C538.03,479.28 544.08,491.25 549.3,500.9C554.52,510.55 559.7,519.27 565,527.5C570.3,535.73 574.7,542.55 581.1,550.3C587.5,558.05 594.68,566.08 603.4,574C612.12,581.92 624.08,591.33 633.4,597.8C642.72,604.27 651.77,608.6 659.3,612.8C666.83,617 672.18,619.93 678.6,623C685.02,626.07 691.38,628.83 697.8,631.2C704.22,633.57 710.67,635.48 717.1,637.2C723.53,638.92 729.97,640.33 736.4,641.5C742.83,642.67 749.28,643.53 755.7,644.2C762.12,644.87 770.68,645.25 774.9,645.5C779.12,645.75 779.98,645.67 781,645.7" fill="none" stroke="#800000" stroke-width="2.6" />
<circle cx="516.2" cy="404.1" r="6.0" fill="#0000ff"/>
<circle cx="523.8" cy="410.4" r="6.0" fill="#0000ff"/>
<circle cx="517.1" cy="438.2" r="6.0" fill="#0000ff"/>
<circle cx="529.5" cy="446.9" r="6.0" fill="#0000ff"/>
<circle cx="550.2" cy="471.3" r="6.0" fill="#0000ff"/>
<circle cx="531.9" cy="501.8" r="6.0" fill="#0000ff"/>
<circle cx="572.3" cy="556.8" r="6.0" fill="#0000ff"/>
<circle cx="590.7" cy="544.8" r="6.0" fill="#0000ff"/>
<circle cx="601" cy="556.8" r="6.0" fill="#0000ff"/>
<rect x="703" y="637.4" width="10.8" height="10.8" fill="#ff0000"/>
<rect x="777.7" y="636.7" width="10.8" height="10.8" fill="#ff0000"/>
<rect x="790" y="639.9" width="10.8" height="10.8" fill="#ff0000"/>
<polygon points="516.2,476.6 517.9,481.65 523.24,481.71 518.96,484.9 520.55,489.99 516.2,486.9 511.85,489.99 513.44,484.9 509.16,481.71 514.5,481.65" fill="#008000"/>
<line x1="544.1" y1="616.3" x2="520.3" y2="509" stroke="#008000" stroke-width="2.5" />
<polygon points="518.6,501.3 523.3,510.3 517.7,511.6" fill="#008000"/>
<rect x="491.5" y="380.15" width="335.35" height="335.4" fill="none" stroke="#000" stroke-width="2.2"/>
<line x1="491.35" y1="380.15" x2="491.35" y2="383.55" stroke="#000" stroke-width="2" />
<line x1="491.35" y1="715.55" x2="491.35" y2="712.15" stroke="#000" stroke-width="2" />
<line x1="515.3" y1="380.15" x2="515.3" y2="385.85" stroke="#000" stroke-width="2" />
<line x1="515.3" y1="715.55" x2="515.3" y2="709.85" stroke="#000" stroke-width="2" />
<text transform="translate(510.62,734.6) scale(1,1.05)" font-size="17.3" fill="#000" font-family='"Liberation Sans", sans-serif'>0</text>
<line x1="539.25" y1="380.15" x2="539.25" y2="383.55" stroke="#000" stroke-width="2" />
<line x1="539.25" y1="715.55" x2="539.25" y2="712.15" stroke="#000" stroke-width="2" />
<line x1="563.2" y1="380.15" x2="563.2" y2="383.55" stroke="#000" stroke-width="2" />
<line x1="563.2" y1="715.55" x2="563.2" y2="712.15" stroke="#000" stroke-width="2" />
<line x1="587.15" y1="380.15" x2="587.15" y2="383.55" stroke="#000" stroke-width="2" />
<line x1="587.15" y1="715.55" x2="587.15" y2="712.15" stroke="#000" stroke-width="2" />
<line x1="611.1" y1="380.15" x2="611.1" y2="383.55" stroke="#000" stroke-width="2" />
<line x1="611.1" y1="715.55" x2="611.1" y2="712.15" stroke="#000" stroke-width="2" />
<line x1="635.05" y1="380.15" x2="635.05" y2="385.85" stroke="#000" stroke-width="2" />
<line x1="635.05" y1="715.55" x2="635.05" y2="709.85" stroke="#000" stroke-width="2" />
<text transform="translate(624.77,734.6) scale(1,1.05)" font-size="17.3" fill="#000" font-family='"Liberation Sans", sans-serif'>10</text>
<line x1="659" y1="380.15" x2="659" y2="383.55" stroke="#000" stroke-width="2" />
<line x1="659" y1="715.55" x2="659" y2="712.15" stroke="#000" stroke-width="2" />
<line x1="682.95" y1="380.15" x2="682.95" y2="383.55" stroke="#000" stroke-width="2" />
<line x1="682.95" y1="715.55" x2="682.95" y2="712.15" stroke="#000" stroke-width="2" />
<line x1="706.9" y1="380.15" x2="706.9" y2="383.55" stroke="#000" stroke-width="2" />
<line x1="706.9" y1="715.55" x2="706.9" y2="712.15" stroke="#000" stroke-width="2" />
<line x1="730.85" y1="380.15" x2="730.85" y2="383.55" stroke="#000" stroke-width="2" />
<line x1="730.85" y1="715.55" x2="730.85" y2="712.15" stroke="#000" stroke-width="2" />
<line x1="754.8" y1="380.15" x2="754.8" y2="385.85" stroke="#000" stroke-width="2" />
<line x1="754.8" y1="715.55" x2="754.8" y2="709.85" stroke="#000" stroke-width="2" />
<text transform="translate(744.77,734.6) scale(1,1.05)" font-size="17.3" fill="#000" font-family='"Liberation Sans", sans-serif'>20</text>
<line x1="778.75" y1="380.15" x2="778.75" y2="383.55" stroke="#000" stroke-width="2" />
<line x1="778.75" y1="715.55" x2="778.75" y2="712.15" stroke="#000" stroke-width="2" />
<line x1="802.7" y1="380.15" x2="802.7" y2="383.55" stroke="#000" stroke-width="2" />
<line x1="802.7" y1="715.55" x2="802.7" y2="712.15" stroke="#000" stroke-width="2" />
<text transform="translate(464.74,416.45) scale(1,1.06)" font-size="19.34" fill="#000" font-family='"Liberation Sans", sans-serif'>50</text>
<text transform="translate(475.54,721.45) scale(1,1.06)" font-size="19.34" fill="#000" font-family='"Liberation Sans", sans-serif'>0</text>
<line x1="491.5" y1="685.05" x2="494.9" y2="685.05" stroke="#000" stroke-width="2" />
<line x1="826.85" y1="685.05" x2="823.45" y2="685.05" stroke="#000" stroke-width="2" />
<line x1="491.5" y1="654.55" x2="497.2" y2="654.55" stroke="#000" stroke-width="2" />
<line x1="826.85" y1="654.55" x2="821.15" y2="654.55" stroke="#000" stroke-width="2" />
<text transform="translate(464.74,660.45) scale(1,1.06)" font-size="19.34" fill="#000" font-family='"Liberation Sans", sans-serif'>10</text>
<line x1="491.5" y1="624.05" x2="494.9" y2="624.05" stroke="#000" stroke-width="2" />
<line x1="826.85" y1="624.05" x2="823.45" y2="624.05" stroke="#000" stroke-width="2" />
<line x1="491.5" y1="593.55" x2="497.2" y2="593.55" stroke="#000" stroke-width="2" />
<line x1="826.85" y1="593.55" x2="821.15" y2="593.55" stroke="#000" stroke-width="2" />
<text transform="translate(464.74,599.45) scale(1,1.06)" font-size="19.34" fill="#000" font-family='"Liberation Sans", sans-serif'>20</text>
<line x1="491.5" y1="563.05" x2="494.9" y2="563.05" stroke="#000" stroke-width="2" />
<line x1="826.85" y1="563.05" x2="823.45" y2="563.05" stroke="#000" stroke-width="2" />
<line x1="491.5" y1="532.55" x2="497.2" y2="532.55" stroke="#000" stroke-width="2" />
<line x1="826.85" y1="532.55" x2="821.15" y2="532.55" stroke="#000" stroke-width="2" />
<text transform="translate(464.74,538.45) scale(1,1.06)" font-size="19.34" fill="#000" font-family='"Liberation Sans", sans-serif'>30</text>
<line x1="491.5" y1="502.05" x2="494.9" y2="502.05" stroke="#000" stroke-width="2" />
<line x1="826.85" y1="502.05" x2="823.45" y2="502.05" stroke="#000" stroke-width="2" />
<line x1="491.5" y1="471.55" x2="497.2" y2="471.55" stroke="#000" stroke-width="2" />
<line x1="826.85" y1="471.55" x2="821.15" y2="471.55" stroke="#000" stroke-width="2" />
<text transform="translate(464.74,477.45) scale(1,1.06)" font-size="19.34" fill="#000" font-family='"Liberation Sans", sans-serif'>40</text>
<line x1="491.5" y1="441.05" x2="494.9" y2="441.05" stroke="#000" stroke-width="2" />
<line x1="826.85" y1="441.05" x2="823.45" y2="441.05" stroke="#000" stroke-width="2" />
<line x1="491.5" y1="410.55" x2="497.2" y2="410.55" stroke="#000" stroke-width="2" />
<line x1="826.85" y1="410.55" x2="821.15" y2="410.55" stroke="#000" stroke-width="2" />
<text transform="translate(441.6,408.5) scale(1,1.0)" font-size="26.6" fill="#000" font-family='"Liberation Sans", sans-serif' font-weight="bold">d</text>
<text transform="translate(450.6,594) rotate(-90) scale(1,1.12)" font-size="21.2" fill="#000" font-family='"Liberation Sans", sans-serif'><tspan font-style="italic">T</tspan><tspan font-size="64%" dy="0.625em" dx="-0.2em">c</tspan></text>
<text transform="translate(450.6,559.25) rotate(-90) scale(1,1.093)" font-size="20.92" fill="#000" font-family='"Liberation Sans", sans-serif'>(K)</text>
<text transform="translate(551.06,435.8) scale(1,1.07)" font-size="20.86" fill="#0000ff" font-family='"Liberation Sans", sans-serif'><tspan font-style="italic">R</tspan>FeAs(O/F)</text>
<text transform="translate(511.34,640.6) scale(1,1.055)" font-size="21.14" fill="#008000" font-family='"Liberation Sans", sans-serif'>(Ba/K)Fe<tspan font-size="63%" dy="0.667em">2</tspan><tspan dy="-0.42em">As</tspan><tspan font-size="63%" dy="0.667em">2</tspan></text>
<text transform="translate(702.59,562.6) scale(1,1.072)" font-size="21.12" fill="#ff0000" font-family='"Liberation Sans", sans-serif'>CaFe<tspan font-size="63%" dy="0.667em">2</tspan><tspan dy="-0.42em">As</tspan><tspan font-size="63%" dy="0.667em">2</tspan></text>
<text transform="translate(713.34,590.7) scale(1,1.003)" font-size="17.63" fill="#ff0000" font-family='"Liberation Sans", sans-serif'>pressure</text>
<text transform="translate(707.27,611.9) scale(1,1.028)" font-size="17.08" fill="#ff0000" font-family='"Liberation Sans", sans-serif'>dependent</text>
<text transform="translate(541.95,690.8) scale(1,1.0)" font-size="18.5" fill="#000" font-family='"Liberation Serif", serif'>σ</text>
<text transform="translate(552.2,682.2) scale(1,1.02)" font-size="9.8" fill="#000" font-family='"Liberation Sans", sans-serif'>2</text>
<text transform="translate(562.21,691.6) scale(1,1.0)" font-size="16.93" fill="#000" font-family='"Liberation Sans", sans-serif'>=</text>
<text transform="translate(576.55,684.1) scale(1,1.02)" font-size="9.4" fill="#000" font-family='"Liberation Sans", sans-serif'>1</text>
<line x1="577" y1="687.1" x2="581.9" y2="687.1" stroke="#000" stroke-width="0.9" />
<text transform="translate(576.77,695.3) scale(1,1.02)" font-size="9.4" fill="#000" font-family='"Liberation Sans", sans-serif'>6</text>
<text transform="translate(587.5,690.8) scale(1,0.95)" font-size="14.2" fill="#000" font-family='"Liberation Serif", serif'>Σ</text>
<text transform="translate(589.92,678.9) scale(1,1.03)" font-size="10.0" fill="#000" font-family='"Liberation Sans", sans-serif'>6</text>
<text transform="translate(589.92,699.5) scale(1,1.03)" font-size="10.0" fill="#000" font-family='"Liberation Sans", sans-serif'>1</text>
<text transform="translate(601.22,690.7) scale(1,1.073)" font-size="16.34" fill="#000" font-family='"Liberation Sans", sans-serif'>[ (bond angle) - 109.47 deg]</text>
<text transform="translate(803.7,681.6) scale(1,1.02)" font-size="9.8" fill="#000" font-family='"Liberation Sans", sans-serif'>2</text>
<text transform="translate(500.45,757.1) scale(1,1.068)" font-size="20.63" fill="#000" font-family='"Liberation Sans", sans-serif'>Variance</text>
<text transform="translate(587.8,757.1) scale(1,1.0)" font-size="24.0" fill="#000" font-family='"Liberation Serif", serif'>σ</text>
<text transform="translate(600.4,745.2) scale(1,1.0)" font-size="12.6" fill="#000" font-family='"Liberation Sans", sans-serif'>2</text>
<text transform="translate(611.79,757.1) scale(1,1.039)" font-size="21.2" fill="#000" font-family='"Liberation Sans", sans-serif'>of bond angles</text>
<text transform="translate(763.65,757.1) scale(1,1.075)" font-size="21.0" fill="#000" font-family='"Liberation Sans", sans-serif'>(deg</text>
<text transform="translate(806,745.2) scale(1,1.0)" font-size="12.6" fill="#000" font-family='"Liberation Sans", sans-serif'>2</text>
<text transform="translate(813.35,757.1) scale(1,1.07)" font-size="21.0" fill="#000" font-family='"Liberation Sans", sans-serif'>)</text>
</g>
</svg>
</body></html>
